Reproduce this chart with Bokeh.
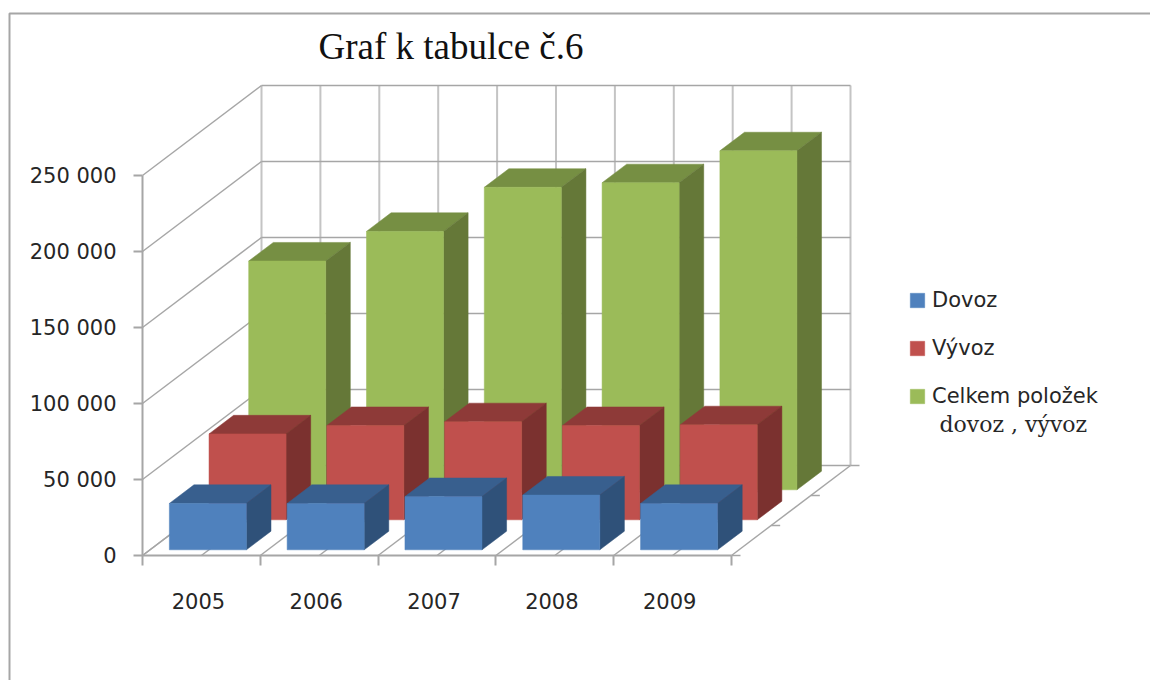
from bokeh.plotting import figure
from bokeh.models import FixedTicker, Legend, LegendItem
from bokeh.core.properties import value
from bokeh.embed import file_html
from bokeh.resources import INLINE

# ---- data ----
years = ["2005", "2006", "2007", "2008", "2009"]
dovoz = [30500, 30500, 35000, 36000, 30500]
vyvoz = [56500, 62000, 64500, 62000, 62500]
celkem = [150500, 170000, 199000, 202000, 223000]
value_ticks = [0, 50000, 100000, 150000, 200000, 250000]
value_labels = ["0", "50 000", "100 000", "150 000", "200 000", "250 000"]

# ---- page geometry ----
W, H = 1150, 680
ORIGIN_X, ORIGIN_Y = 142, 555   # page pixels of the front-left floor corner
CAT_PX = 117.8                  # pixels per category
VAL_PX = 380 / 250000           # pixels per unit of value
DX_PX, DY_PX = 119 / 3, 90 / 3  # oblique shift per series row of depth

N = len(years)
DEPTH = 3
BAR_W = 0.654
BAR_GAP = (1 - BAR_W) / 2 - 0.009
BAR_D = 0.62
DEPTH_GAP = (1 - BAR_D) / 2


def px(cat, val, depth):
    """Oblique projection into the figure's data space."""
    return cat + depth * DX_PX / CAT_PX, val + depth * DY_PX / VAL_PX


def at_pixel(x, y):
    return (x - ORIGIN_X) / CAT_PX, (ORIGIN_Y - y) / VAL_PX


x0, y1 = at_pixel(0, 0)
x1, y0 = at_pixel(W, H)

p = figure(
    width=W, height=H, output_backend="svg", toolbar_location=None,
    x_range=(x0, x1), y_range=(y0, y1),
    min_border_left=0, min_border_right=0, min_border_top=0, min_border_bottom=0,
)
p.outline_line_color = None
p.grid.visible = False

GREY = "#a6a6a6"
GREY_V = "#c4c4c4"
LABEL_FONT = "DejaVu Sans"
LABEL_SIZE = "21px"
INK = "#262626"

# y axis, fixed on the front-left edge
p.yaxis.fixed_location = 0
p.yaxis.ticker = FixedTicker(ticks=value_ticks)
p.yaxis.major_label_overrides = {v: s for v, s in zip(value_ticks, value_labels)}
p.yaxis.bounds = (0, 250000)
p.yaxis.axis_line_color = GREY
p.yaxis.axis_line_width = 2
p.yaxis.major_tick_line_color = GREY
p.yaxis.major_tick_line_width = 2
p.yaxis.major_tick_in = 0
p.yaxis.major_tick_out = 9
p.yaxis.minor_tick_line_color = None
p.yaxis.major_label_standoff = 17
p.yaxis.major_label_text_font = LABEL_FONT
p.yaxis.major_label_text_font_size = LABEL_SIZE
p.yaxis.major_label_text_color = INK

# x axis: ticks on the category boundaries, labels in the middle
mids = [i + 0.475 for i in range(N)]
p.xaxis.fixed_location = 0
p.xaxis.ticker = FixedTicker(ticks=mids, minor_ticks=list(range(N + 1)))
p.xaxis.major_label_overrides = {m: y for m, y in zip(mids, years)}
p.xaxis.bounds = (0, N)
p.xaxis.axis_line_color = GREY
p.xaxis.axis_line_width = 2
p.xaxis.major_tick_line_color = None
p.xaxis.minor_tick_line_color = GREY
p.xaxis.minor_tick_line_width = 2
p.xaxis.minor_tick_in = 0
p.xaxis.minor_tick_out = 10
p.xaxis.major_tick_in = 0
p.xaxis.major_tick_out = 0
p.xaxis.major_label_standoff = 27
p.xaxis.major_label_text_font = LABEL_FONT
p.xaxis.major_label_text_font_size = LABEL_SIZE
p.xaxis.major_label_text_color = INK

# chart-area border: runs off the right and bottom of the picture
bx, by = zip(at_pixel(9, H + 20), at_pixel(9, 13), at_pixel(W + 20, 13))
p.line(list(bx), list(by), line_color=GREY, line_width=2)

# title
tx, ty = at_pixel(318, 46)
p.text([tx], [ty], text=["Graf k tabulce č.6"], text_font=value("Liberation Serif"),
       text_font_size="37px", text_color="#111111", text_baseline="alphabetic", text_align="left")


def segs(pairs, color, width):
    xs, ys = [], []
    for a, b in pairs:
        ax, ay = px(*a)
        bx, by = px(*b)
        xs.append([ax, bx])
        ys.append([ay, by])
    p.multi_line(xs, ys, line_color=color, line_width=width)


half = [i / 2 for i in range(2 * N + 1)]
top = value_ticks[-1]
segs([((c, 0, DEPTH), (c, top, DEPTH)) for c in half], GREY_V, 2)
segs([((0, v, 0), (0, v, DEPTH)) for v in value_ticks], GREY, 1.5)
segs([((0, v, DEPTH), (N, v, DEPTH)) for v in value_ticks], GREY, 1.5)
segs([((c, 0, 0), (c, 0, DEPTH)) for c in half], GREY, 1.5)
stub = 9 / CAT_PX
segs([((N, 0, d), (N + stub, 0, d)) for d in range(DEPTH + 1)], GREY, 1.5)


def bars(vals, row, front, top_col, side):
    d0, d1 = row + DEPTH_GAP, row + DEPTH_GAP + BAR_D
    fx, fy, tx, ty, sx, sy = [], [], [], [], [], []
    for i, v in enumerate(vals):
        c0, c1 = i + BAR_GAP, i + BAR_GAP + BAR_W
        face = [px(c0, 0, d0), px(c1, 0, d0), px(c1, v, d0), px(c0, v, d0)]
        lid = [px(c0, v, d0), px(c1, v, d0), px(c1, v, d1), px(c0, v, d1)]
        wall = [px(c1, 0, d0), px(c1, 0, d1), px(c1, v, d1), px(c1, v, d0)]
        for pts, xs, ys in ((face, fx, fy), (lid, tx, ty), (wall, sx, sy)):
            xs.append([q[0] for q in pts])
            ys.append([q[1] for q in pts])
    p.patches(tx, ty, fill_color=top_col, line_color=top_col, line_width=0.5)
    p.patches(sx, sy, fill_color=side, line_color=side, line_width=0.5)
    return p.patches(fx, fy, fill_color=front, line_color=front, line_width=0.5)


r_green = bars(celkem, 2, "#9bbb59", "#768f43", "#657838")
r_red = bars(vyvoz, 1, "#c0504d", "#8e3a38", "#7b312f")
r_blue = bars(dovoz, 0, "#4f81bd", "#385f8e", "#2f5179")

legend = Legend(
    items=[LegendItem(label="Dovoz", renderers=[r_blue]),
           LegendItem(label="Vývoz", renderers=[r_red]),
           LegendItem(label="Celkem položek", renderers=[r_green])],
    location=(908, H - 408),
    background_fill_alpha=0, border_line_color=None,
    glyph_width=18, glyph_height=18, label_standoff=6,
    label_text_font=LABEL_FONT, label_text_font_size=LABEL_SIZE, label_text_color=INK,
    label_height=24, spacing=24, margin=0, padding=0,
)
p.add_layout(legend, "center")

lx, ly = at_pixel(939, 424)
p.text([lx], [ly], text=["dovoz , vývoz"],
       text_font=value("DejaVu Serif"), text_font_size="22px", text_color=INK,
       text_baseline="alphabetic", text_align="left")

open("out.html", "w").write(file_html(p, INLINE))
